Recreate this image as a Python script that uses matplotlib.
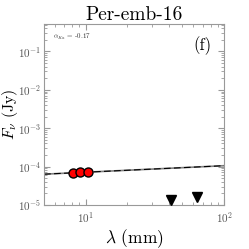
import numpy as np
import matplotlib
matplotlib.use("Agg")
import matplotlib.pyplot as plt

plt.rcParams['font.family'] = 'serif'
plt.rcParams['font.serif'] = ['cmr10']
plt.rcParams['mathtext.fontset'] = 'cm'
plt.rcParams['axes.formatter.use_mathtext'] = True

# datos
lam_det = [8.1, 9.1, 10.3]
flux_det = [6.8e-5, 7.2e-5, 7.0e-5]
err_det = [1.2e-5, 1.2e-5, 1.2e-5]
lam_lim = [41.0, 64.0]
flux_lim = [1.35e-5, 1.6e-5]
alpha = -0.17
f_ref = 7.0e-5
lam_ref = 9.1

fig = plt.figure(figsize=(2.49, 2.49), dpi=100)
ax = fig.add_axes([0.177, 0.177, 0.723, 0.727])

lam_fit = np.array([5.0, 100.0])
ax.plot(lam_fit, f_ref * (lam_fit / lam_ref) ** (-alpha), color='gray', lw=1.2, zorder=1)
ax.plot(lam_fit, f_ref * (lam_fit / lam_ref) ** (-alpha), color='black', lw=0.8,
        ls=(0, (6, 3)), zorder=2)
ax.errorbar(lam_det, flux_det, yerr=err_det, fmt='o', color='black', mfc='red',
            mec='black', ms=6.5, mew=1.0, elinewidth=0.8, capsize=0, zorder=3)
ax.plot(lam_lim, flux_lim, 'v', color='black', ms=7, zorder=3, clip_on=False)

ax.set_xscale('log')
ax.set_yscale('log')
ax.set_xlim(5, 100)
ax.set_ylim(1e-5, 0.52)

for s in ax.spines.values():
    s.set_color('#999999')
ax.tick_params(which='both', direction='in', top=True, right=True, color='#999999',
               labelcolor='#555555', labelsize=8)
ax.tick_params(which='major', length=4)
ax.tick_params(which='minor', length=2)
ax.tick_params(axis='y', pad=2)

ax.set_title('Per-emb-16', fontsize=14, pad=3)
ax.set_xlabel(r'$\lambda$ (mm)', fontsize=12.5, labelpad=2)
ax.set_ylabel(r'$F_\nu$ (Jy)', fontsize=11.5)
ax.yaxis.set_label_coords(-0.135, 0.5)
ax.text(0.05, 0.93, r'$\alpha_{Ka}$ = -0.17', transform=ax.transAxes, fontsize=5,
        color='#333333', va='center')
ax.text(0.83, 0.88, '(f)', transform=ax.transAxes, fontsize=12, va='center')

fig.savefig('out.png', dpi=100)
